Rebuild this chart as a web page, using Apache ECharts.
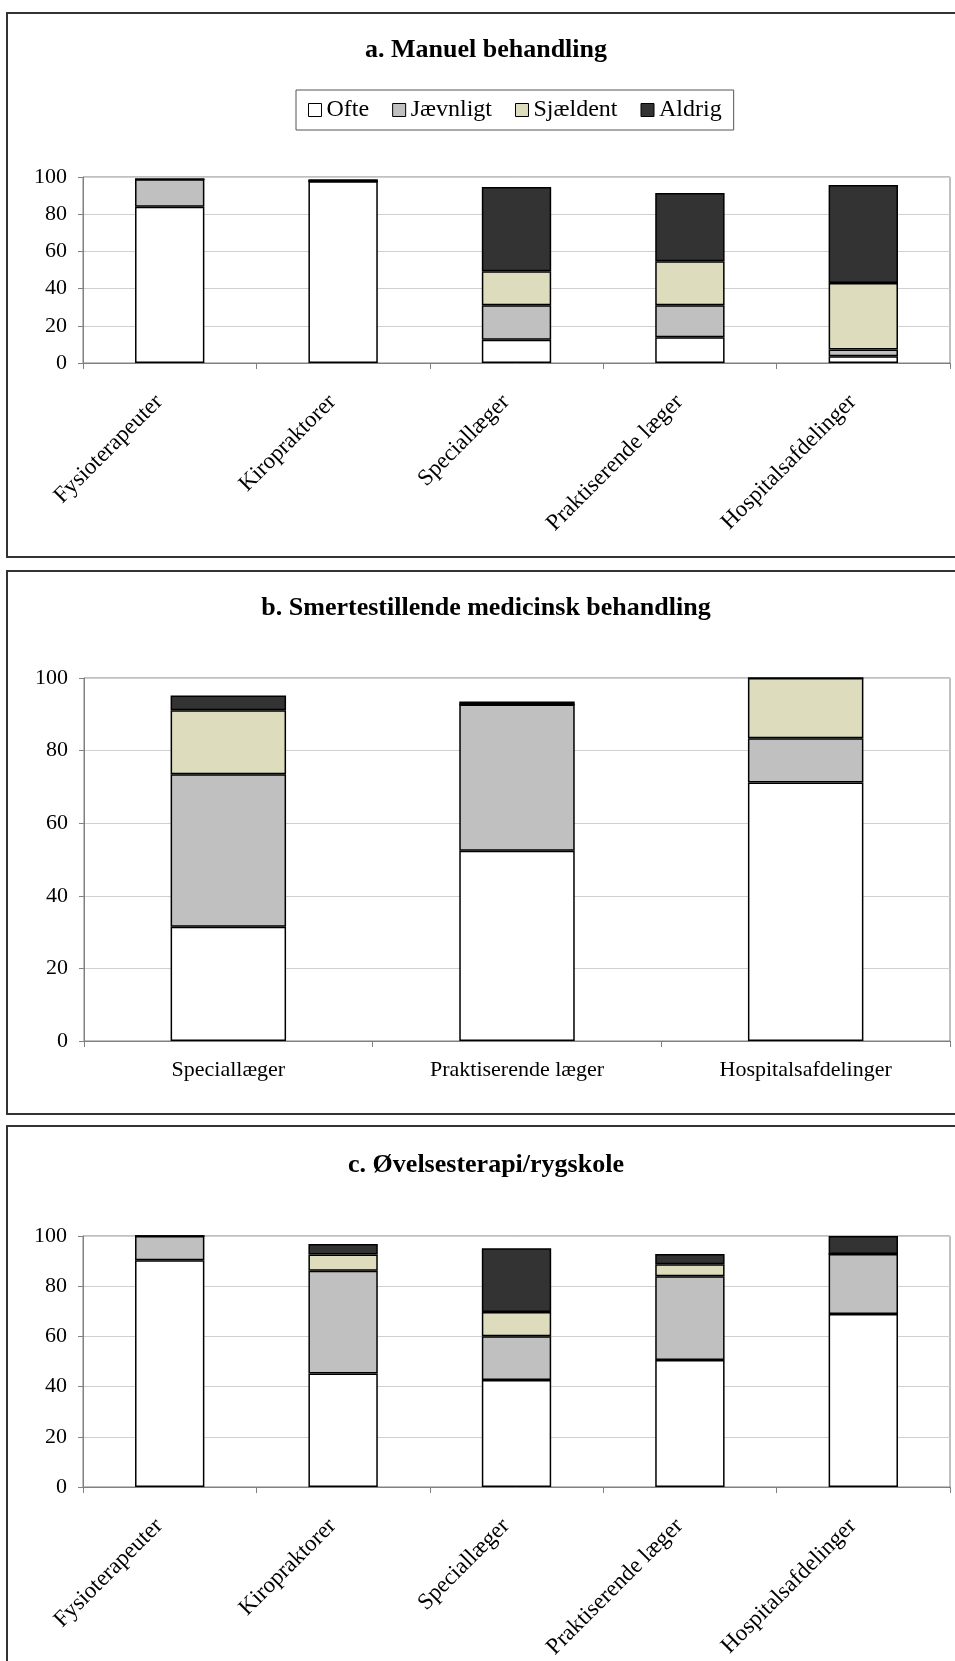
<!DOCTYPE html>
<html>
<head>
<meta charset="utf-8">
<script src="https://cdn.jsdelivr.net/npm/echarts@6/dist/echarts.min.js"></script>
<style>
html,body{margin:0;padding:0;background:#fff;}
#chart{width:955px;height:1661px;}
</style>
</head>
<body>
<div id="chart"></div>
<script>
// ---- data ----
const seriesNames = ['Ofte', 'Jævnligt', 'Sjældent', 'Aldrig'];
const yTicks = [0, 20, 40, 60, 80, 100];

const titleA = 'a. Manuel behandling';
const catsA = ['Fysioterapeuter', 'Kiropraktorer', 'Speciallæger', 'Praktiserende læger', 'Hospitalsafdelinger'];
const aOfte     = [84.0, 97.7, 12.5, 13.8, 3.6];
const aJaevnligt= [14.8, 0, 18.5, 17.2, 3.6];
const aSjaeldent= [0, 0, 18.3, 23.7, 35.8];
const aAldrig   = [0, 1.1, 45.3, 36.7, 52.7];

const titleB = 'b. Smertestillende medicinsk behandling';
const catsB = ['Speciallæger', 'Praktiserende læger', 'Hospitalsafdelinger'];
const bOfte     = [31.5, 52.4, 71.2];
const bJaevnligt= [42.0, 40.3, 12.2];
const bSjaeldent= [17.6, 0, 16.6];
const bAldrig   = [4.1, 0.8, 0];

const titleC = 'c. Øvelsesterapi/rygskole';
const catsC = ['Fysioterapeuter', 'Kiropraktorer', 'Speciallæger', 'Praktiserende læger', 'Hospitalsafdelinger'];
const cOfte     = [90.3, 45.2, 42.6, 50.6, 68.9];
const cJaevnligt= [9.7, 41.0, 17.5, 33.4, 23.9];
const cSjaeldent= [0, 6.4, 9.6, 4.7, 0];
const cAldrig   = [0, 4.2, 25.4, 4.1, 7.2];

// ---- styling ----
const FONT = '"Liberation Serif", "Times New Roman", serif';
const colors = ['#ffffff', '#c0c0c0', '#dddcbc', '#333333'];
const panels = [
  {title: titleA, cats: catsA, data: [aOfte, aJaevnligt, aSjaeldent, aAldrig], grid: {left: 83, top: 177, width: 867, height: 186}, rotate: true, titleTop: 32},
  {title: titleB, cats: catsB, data: [bOfte, bJaevnligt, bSjaeldent, bAldrig], grid: {left: 84, top: 678, width: 866, height: 363}, rotate: false, titleTop: 590},
  {title: titleC, cats: catsC, data: [cOfte, cJaevnligt, cSjaeldent, cAldrig], grid: {left: 83, top: 1236, width: 867, height: 251}, rotate: true, titleTop: 1147}
];

const grids = [], xAxes = [], yAxes = [], series = [], titles = [];
panels.forEach((p, i) => {
  grids.push(Object.assign({show: true, borderColor: '#808080', borderWidth: 1, backgroundColor: 'transparent', containLabel: false, outerBoundsMode: 'none'}, p.grid));
  titles.push({
    text: p.title, left: 481, top: p.titleTop, textAlign: 'center',
    textStyle: {fontFamily: FONT, fontSize: 26, fontWeight: 'bold', color: '#000'}
  });
  xAxes.push({
    gridIndex: i, type: 'category', data: p.cats,
    axisLine: {show: true, lineStyle: {color: '#808080', width: 1}},
    axisTick: {show: true, length: 6, lineStyle: {color: '#808080'}},
    splitLine: {show: false},
    axisLabel: p.rotate
      ? {interval: 0, rotate: 45, margin: 25, padding: [0, 15, 0, 0], fontFamily: FONT, fontSize: 23, color: '#000'}
      : {interval: 0, margin: 18, fontFamily: FONT, fontSize: 22, color: '#000'}
  });
  yAxes.push({
    gridIndex: i, type: 'value', min: yTicks[0], max: yTicks[yTicks.length - 1], interval: yTicks[1] - yTicks[0],
    axisLine: {show: true, lineStyle: {color: '#808080', width: 1}},
    axisTick: {show: true, length: 5, lineStyle: {color: '#808080'}},
    splitLine: {show: true, lineStyle: {color: '#d0d0d0', width: 1}},
    axisLabel: {margin: 16, fontFamily: FONT, fontSize: 22, color: '#000'}
  });
  seriesNames.forEach((name, k) => {
    series.push({
      name: name, type: 'bar', stack: 'p' + i, xAxisIndex: i, yAxisIndex: i,
      barCategoryGap: '60%', data: p.data[k],
      itemStyle: {color: colors[k], borderColor: '#000', borderWidth: 1.5},
      emphasis: {disabled: true}, animation: false
    });
  });
});

const chart = echarts.init(document.getElementById('chart'), null, {renderer: 'canvas'});
chart.setOption({
  animation: false,
  backgroundColor: '#ffffff',
  title: titles,
  legend: {
    data: seriesNames, left: 296, top: 90, orient: 'horizontal',
    icon: 'rect', itemWidth: 13, itemHeight: 13, itemGap: 23,
    padding: [8, 12], borderColor: '#555', borderWidth: 1, backgroundColor: '#fff',
    itemStyle: {borderColor: '#000', borderWidth: 1},
    textStyle: {fontFamily: FONT, fontSize: 24, color: '#000'},
    selectedMode: false
  },
  grid: grids, xAxis: xAxes, yAxis: yAxes, series: series,
  graphic: [
    {type: 'rect', shape: {x: 7, y: 13, width: 965, height: 544}, style: {fill: 'none', stroke: '#333', lineWidth: 2}, silent: true, z: -1},
    {type: 'rect', shape: {x: 7, y: 571, width: 965, height: 543}, style: {fill: 'none', stroke: '#333', lineWidth: 2}, silent: true, z: -1},
    {type: 'rect', shape: {x: 7, y: 1126, width: 965, height: 560}, style: {fill: 'none', stroke: '#333', lineWidth: 2}, silent: true, z: -1}
  ]
});
</script>
</body>
</html>
